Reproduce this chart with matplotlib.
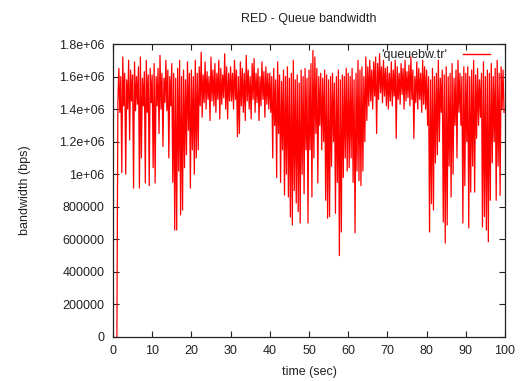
import numpy as np
import matplotlib.pyplot as plt

plt.rcParams['font.family'] = ['Liberation Sans', 'DejaVu Sans']

# queue bandwidth in kbps
# peaks at t = 1.0, 1.5, ... 99.5 ; troughs at t = 1.25, 1.75, ... 99.75
peak_kbps = [
    0, 1650, 1600, 1720, 1620, 1580, 1700, 1640, 1610, 1690, 1600, 1660, 1720, 1590, 1630, 1700, 1610, 1650,
    1610, 1680, 1600, 1650, 1730, 1620, 1590, 1700, 1640, 1600, 1680, 1620, 1590, 1650, 1700, 1600, 1640, 1580, 1690, 1620,
    1640, 1600, 1700, 1620, 1660, 1750, 1610, 1690, 1630, 1600, 1720, 1640, 1680, 1620, 1700, 1650, 1610, 1740, 1660, 1620,
    1660, 1620, 1700, 1640, 1600, 1690, 1650, 1620, 1730, 1640, 1600, 1680, 1710, 1620, 1650, 1600, 1690, 1630, 1660, 1620,
    1620, 1600, 1650, 1580, 1690, 1610, 1570, 1640, 1600, 1660, 1590, 1620, 1700, 1580, 1610, 1560, 1640, 1600, 1650, 1590,
    1640, 1680, 1760, 1720, 1650, 1600, 1620, 1590, 1640, 1610, 1580, 1600, 1620, 1560, 1600, 1640, 1580, 1610, 1600, 1650,
    1620, 1600, 1650, 1580, 1620, 1700, 1640, 1660, 1600, 1720, 1660, 1700, 1640, 1690, 1720, 1680, 1740, 1660, 1700, 1650,
    1660, 1620, 1690, 1640, 1700, 1660, 1620, 1680, 1650, 1700, 1630, 1670, 1720, 1640, 1600, 1690, 1650, 1620, 1700, 1660,
    1640, 1600, 1580, 1650, 1600, 1620, 1700, 1590, 1640, 1610, 1660, 1600, 1620, 1680, 1590, 1640, 1700, 1620, 1600, 1660,
    1620, 1660, 1600, 1640, 1700, 1610, 1650, 1580, 1620, 1690, 1600, 1640, 1620, 1680, 1600, 1650, 1700, 1620, 1660, 1640,
]
trough_kbps = [
    1440, 1380, 1010, 1420, 1000, 1400, 1210, 1450, 915, 1390, 1430, 915, 1100, 1420, 946, 1380, 930, 1440,
    1040, 946, 1420, 1250, 1400, 1170, 1440, 1390, 1100, 1420, 950, 657, 657, 1020, 750, 780, 1040, 1120, 1270, 915,
    1150, 1000, 1100, 1150, 1420, 1350, 1440, 1400, 1460, 1330, 1450, 1420, 1380, 1460, 1340, 1430, 1470, 1400, 1340, 1450,
    1450, 1400, 1460, 1230, 1250, 1420, 1380, 1330, 1450, 1400, 1340, 1460, 1380, 1440, 1330, 1420, 1460, 1350, 1430, 1400,
    1380, 1100, 1300, 980, 1250, 950, 1150, 872, 1000, 860, 737, 688, 900, 823, 770, 700, 1000, 880, 1150, 700,
    1150, 860, 1100, 1250, 946, 1300, 1150, 1200, 840, 730, 740, 1050, 1200, 760, 950, 500, 645, 980, 1100, 1020,
    1040, 1100, 950, 640, 1020, 960, 930, 1020, 1200, 1330, 1420, 1450, 1400, 1480, 1250, 1460, 1500, 1440, 1480, 1420,
    1400, 1450, 1420, 1480, 1220, 1460, 1430, 1490, 1400, 1450, 1470, 1420, 1460, 1220, 1440, 1400, 1460, 1380, 1430, 1400,
    1300, 645, 820, 780, 1070, 1120, 1200, 1380, 706, 577, 688, 1050, 860, 1000, 1300, 1100, 1380, 1300, 700, 930,
    1200, 670, 890, 1050, 890, 1220, 1300, 1350, 676, 740, 657, 585, 840, 1070, 1200, 840, 1050, 870, 1400, 1380,
]

x_ticks = [0, 10, 20, 30, 40, 50, 60, 70, 80, 90, 100]
y_ticks = [0, 200000, 400000, 600000, 800000, 1000000, 1200000, 1400000, 1600000, 1800000]
y_labels = ['0', '200000', '400000', '600000', '800000', '1e+06', '1.2e+06', '1.4e+06', '1.6e+06', '1.8e+06']

# interleave peaks and troughs into one time series
t_peak = 1.0 + 0.5 * np.arange(len(peak_kbps))
t_trough = t_peak + 0.25
tiempo = np.empty(2 * len(peak_kbps))
banda = np.empty(2 * len(peak_kbps))
tiempo[0::2] = t_peak
tiempo[1::2] = t_trough
banda[0::2] = np.array(peak_kbps) * 1000
banda[1::2] = np.array(trough_kbps) * 1000

fig = plt.figure(figsize=(5.23, 3.81), dpi=100)
ax = fig.add_axes([0.216, 0.1155, 0.7496, 0.769])

ax.plot(tiempo, banda, color='#ff0000', linewidth=0.9, label="'queuebw.tr'")

ax.set_xlim(0, 100)
ax.set_ylim(0, 1800000)
ax.set_xticks(x_ticks)
ax.set_yticks(y_ticks)
ax.set_yticklabels(y_labels)
ax.tick_params(direction='in', length=4, width=0.8, top=True, right=True,
               labelsize=9, colors='#222222', pad=6)
for s in ax.spines.values():
    s.set_color('#222222')
    s.set_linewidth(0.9)

ax.set_title('RED - Queue bandwidth', fontsize=9, color='#222222', pad=16)
ax.set_xlabel('time (sec)', fontsize=9, color='#222222', labelpad=6)
ax.set_ylabel('bandwidth (bps)', fontsize=9, color='#222222', labelpad=20)

leg = ax.legend(loc='upper right', frameon=False, markerfirst=False, fontsize=9,
                handlelength=2.2, handletextpad=1.2, borderaxespad=0.0,
                bbox_to_anchor=(0.975, 1.0))
for txt in leg.get_texts():
    txt.set_color('#222222')
for h in leg.get_lines():
    h.set_color('#ff0000')
    h.set_linewidth(1.0)

fig.savefig('out.png', dpi=100)
